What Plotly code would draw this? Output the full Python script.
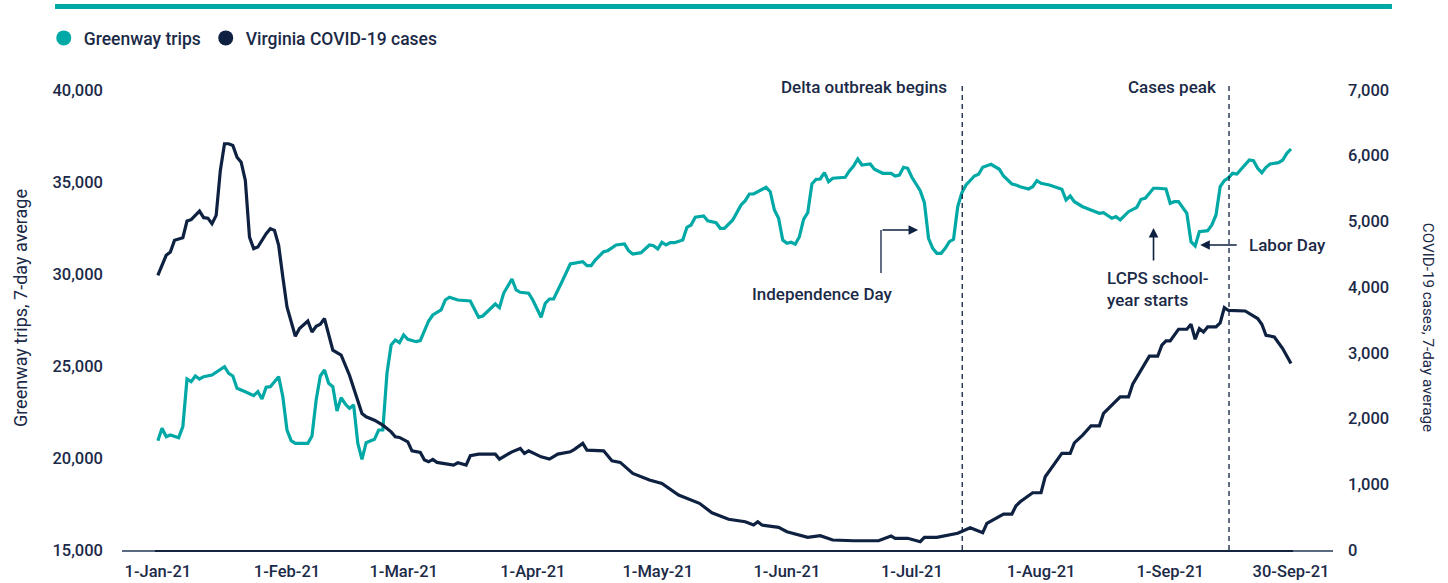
import plotly.graph_objects as go

TEAL = "#00A9A5"
NAVY = "#0E2141"
TEXT = "#1B2A47"
FONT = "Roboto"

# ---------------- data ----------------
case_dates = [
    "2021-01-01", "2021-01-03", "2021-01-04", "2021-01-05", "2021-01-07", "2021-01-08", "2021-01-09",
    "2021-01-11", "2021-01-12", "2021-01-13", "2021-01-14", "2021-01-15", "2021-01-16", "2021-01-17",
    "2021-01-18", "2021-01-19", "2021-01-20", "2021-01-21", "2021-01-22", "2021-01-23", "2021-01-24",
    "2021-01-25", "2021-01-27", "2021-01-28", "2021-01-29", "2021-01-30", "2021-01-31", "2021-02-01",
    "2021-02-03", "2021-02-04", "2021-02-06", "2021-02-07", "2021-02-08", "2021-02-09", "2021-02-10",
    "2021-02-11", "2021-02-12", "2021-02-14", "2021-02-16", "2021-02-19", "2021-02-20", "2021-02-22",
    "2021-02-24", "2021-02-26", "2021-02-27", "2021-02-28", "2021-03-02", "2021-03-03", "2021-03-05",
    "2021-03-06", "2021-03-07", "2021-03-08", "2021-03-09", "2021-03-13", "2021-03-14", "2021-03-16",
    "2021-03-17", "2021-03-19", "2021-03-23", "2021-03-24", "2021-03-27", "2021-03-29", "2021-03-30",
    "2021-03-31", "2021-04-03", "2021-04-05", "2021-04-07", "2021-04-10", "2021-04-11", "2021-04-13",
    "2021-04-14", "2021-04-18", "2021-04-20", "2021-04-22", "2021-04-25", "2021-04-29", "2021-05-02",
    "2021-05-06", "2021-05-11", "2021-05-14", "2021-05-18", "2021-05-22", "2021-05-24", "2021-05-25",
    "2021-05-26", "2021-05-30", "2021-06-01", "2021-06-06", "2021-06-09", "2021-06-12", "2021-06-17",
    "2021-06-23", "2021-06-26", "2021-06-27", "2021-06-30", "2021-07-03", "2021-07-04", "2021-07-07",
    "2021-07-10", "2021-07-12", "2021-07-15", "2021-07-18", "2021-07-19", "2021-07-23", "2021-07-25",
    "2021-07-26", "2021-07-27", "2021-07-30", "2021-08-01", "2021-08-02", "2021-08-04", "2021-08-06",
    "2021-08-08", "2021-08-09", "2021-08-11", "2021-08-13", "2021-08-15", "2021-08-16", "2021-08-20",
    "2021-08-22", "2021-08-23", "2021-08-25", "2021-08-27", "2021-08-29", "2021-08-30", "2021-08-31",
    "2021-09-01", "2021-09-03", "2021-09-05", "2021-09-06", "2021-09-07", "2021-09-08", "2021-09-09",
    "2021-09-10", "2021-09-12", "2021-09-13", "2021-09-14", "2021-09-15", "2021-09-17", "2021-09-19",
    "2021-09-22", "2021-09-23", "2021-09-24", "2021-09-26", "2021-09-28", "2021-09-30",
]
virginia_cases = [
    4180, 4484, 4534, 4712, 4753, 5006, 5027,
    5157, 5057, 5050, 4966, 5092, 5776, 6182,
    6182, 6156, 5978, 5902, 5624, 4762, 4586,
    4610, 4814, 4890, 4864, 4636, 4154, 3698,
    3253, 3370, 3485, 3318, 3405, 3435, 3522,
    3268, 3040, 2964, 2660, 2078, 2026, 1976,
    1900, 1798, 1722, 1713, 1646, 1509, 1485,
    1368, 1342, 1378, 1333, 1292, 1327, 1292,
    1434, 1459, 1459, 1383, 1494, 1546, 1470,
    1509, 1418, 1383, 1459, 1494, 1531, 1622,
    1520, 1509, 1357, 1333, 1166, 1064, 1014,
    836, 710, 567, 467, 430, 380, 430,
    380, 345, 278, 193, 217, 152, 141,
    141, 213, 178, 178, 126, 193, 193,
    228, 254, 339, 263, 406, 547, 547,
    673, 734, 871, 871, 1114, 1292, 1470,
    1470, 1631, 1748, 1890, 1890, 2078, 2330,
    2330, 2523, 2725, 2949, 2949, 3116, 3181,
    3181, 3359, 3359, 3435, 3207, 3370, 3318,
    3394, 3394, 3455, 3689, 3645, 3637, 3637,
    3522, 3435, 3268, 3242, 3066, 2838,
]

trip_dates = [
    "2021-01-01", "2021-01-02", "2021-01-03", "2021-01-04", "2021-01-06", "2021-01-07", "2021-01-08",
    "2021-01-09", "2021-01-10", "2021-01-11", "2021-01-12", "2021-01-14", "2021-01-17", "2021-01-18",
    "2021-01-19", "2021-01-20", "2021-01-22", "2021-01-24", "2021-01-25", "2021-01-26", "2021-01-27",
    "2021-01-28", "2021-01-30", "2021-01-31", "2021-02-01", "2021-02-02", "2021-02-03", "2021-02-06",
    "2021-02-07", "2021-02-08", "2021-02-09", "2021-02-10", "2021-02-11", "2021-02-12", "2021-02-13",
    "2021-02-14", "2021-02-15", "2021-02-16", "2021-02-17", "2021-02-18", "2021-02-19", "2021-02-20",
    "2021-02-22", "2021-02-23", "2021-02-24", "2021-02-25", "2021-02-26", "2021-02-27", "2021-02-28",
    "2021-03-01", "2021-03-02", "2021-03-04", "2021-03-05", "2021-03-07", "2021-03-08", "2021-03-10",
    "2021-03-11", "2021-03-12", "2021-03-14", "2021-03-17", "2021-03-19", "2021-03-20", "2021-03-23",
    "2021-03-24", "2021-03-25", "2021-03-27", "2021-03-28", "2021-03-29", "2021-03-31", "2021-04-01",
    "2021-04-03", "2021-04-04", "2021-04-05", "2021-04-06", "2021-04-08", "2021-04-10", "2021-04-13",
    "2021-04-14", "2021-04-15", "2021-04-16", "2021-04-18", "2021-04-19", "2021-04-21", "2021-04-23",
    "2021-04-24", "2021-04-25", "2021-04-27", "2021-04-29", "2021-04-30", "2021-05-01", "2021-05-02",
    "2021-05-03", "2021-05-04", "2021-05-05", "2021-05-07", "2021-05-08", "2021-05-09", "2021-05-10",
    "2021-05-12", "2021-05-13", "2021-05-15", "2021-05-16", "2021-05-17", "2021-05-19", "2021-05-21",
    "2021-05-22", "2021-05-23", "2021-05-24", "2021-05-27", "2021-05-28", "2021-05-29", "2021-05-30",
    "2021-05-31", "2021-06-01", "2021-06-02", "2021-06-03", "2021-06-04", "2021-06-05", "2021-06-06",
    "2021-06-07", "2021-06-08", "2021-06-09", "2021-06-10", "2021-06-11", "2021-06-12", "2021-06-15",
    "2021-06-16", "2021-06-17", "2021-06-18", "2021-06-19", "2021-06-21", "2021-06-22", "2021-06-24",
    "2021-06-26", "2021-06-27", "2021-06-28", "2021-06-29", "2021-06-30", "2021-07-01", "2021-07-03",
    "2021-07-04", "2021-07-05", "2021-07-06", "2021-07-07", "2021-07-08", "2021-07-09", "2021-07-10",
    "2021-07-11", "2021-07-12", "2021-07-13", "2021-07-14", "2021-07-16", "2021-07-17", "2021-07-18",
    "2021-07-20", "2021-07-22", "2021-07-23", "2021-07-25", "2021-07-26", "2021-07-27", "2021-07-29",
    "2021-07-30", "2021-07-31", "2021-08-01", "2021-08-03", "2021-08-06", "2021-08-07", "2021-08-08",
    "2021-08-09", "2021-08-11", "2021-08-15", "2021-08-16", "2021-08-18", "2021-08-19", "2021-08-20",
    "2021-08-22", "2021-08-24", "2021-08-25", "2021-08-26", "2021-08-28", "2021-08-29", "2021-08-31",
    "2021-09-01", "2021-09-02", "2021-09-03", "2021-09-04", "2021-09-05", "2021-09-06", "2021-09-07",
    "2021-09-08", "2021-09-10", "2021-09-11", "2021-09-12", "2021-09-13", "2021-09-14", "2021-09-15",
    "2021-09-16", "2021-09-17", "2021-09-19", "2021-09-20", "2021-09-21", "2021-09-22", "2021-09-23",
    "2021-09-24", "2021-09-25", "2021-09-27", "2021-09-28", "2021-09-29", "2021-09-30",
]
greenway_trips = [
    20941, 21614, 21158, 21250, 21104, 21702, 24294,
    24148, 24457, 24294, 24419, 24511, 24963, 24604,
    24457, 23789, 23604, 23386, 23604, 23207, 23843,
    23875, 24419, 23332, 21522, 20941, 20799, 20799,
    21196, 23152, 24457, 24783, 24060, 23875, 22555,
    23277, 22935, 22701, 22881, 20799, 19930, 20832,
    21016, 21522, 21522, 24604, 26142, 26413, 26267,
    26685, 26452, 26322, 26376, 27446, 27772, 28044,
    28587, 28735, 28587, 28533, 27646, 27718, 28370,
    28169, 28952, 29729, 29131, 29006, 28952, 28587,
    27646, 28408, 28642, 28642, 29582, 30544, 30669,
    30451, 30451, 30761, 31212, 31267, 31577, 31631,
    31267, 31088, 31158, 31577, 31539, 31359, 31723,
    31577, 31702, 31702, 31847, 32539, 32664, 33082,
    33153, 32897, 32789, 32484, 32484, 32936, 33751,
    33985, 34349, 34349, 34713, 34474, 33479, 33028,
    31847, 31670, 31723, 31615, 32028, 32974, 33332,
    34892, 35147, 35164, 35506, 35017, 35202, 35257,
    35599, 35870, 36251, 35925, 35979, 35691, 35473,
    35473, 35327, 35381, 35800, 35745, 35257, 34528,
    33876, 31941, 31397, 31125, 31125, 31397, 31756,
    31886, 33658, 34419, 34838, 35327, 35419, 35800,
    35963, 35691, 35327, 34892, 34838, 34746, 34621,
    34746, 35072, 34930, 34838, 34605, 34024, 34240,
    33930, 33658, 33300, 33332, 33028, 33115, 32936,
    33387, 33625, 34060, 34115, 34659, 34659, 34621,
    33843, 33930, 33930, 33625, 33300, 31756, 31522,
    32300, 32355, 32664, 33207, 34746, 35072, 35235,
    35473, 35436, 35925, 36196, 36160, 35745, 35506,
    35800, 35979, 36051, 36196, 36560, 36794,
]

tick_dates = ["2021-01-01", "2021-02-01", "2021-03-01", "2021-04-01", "2021-05-01",
              "2021-06-01", "2021-07-01", "2021-08-01", "2021-09-01", "2021-09-30"]
tick_labels = ["1-Jan-21", "1-Feb-21", "1-Mar-21", "1-Apr-21", "1-May-21",
               "1-Jun-21", "1-Jul-21", "1-Aug-21", "1-Sep-21", "30-Sep-21"]

event_dates = ["2021-07-13 02:00", "2021-09-15 03:00"]
event_labels = ["Delta outbreak begins", "Cases peak"]

series_names = ["Greenway trips", "Virginia COVID-19 cases"]

# ---------------- figure ----------------
fig = go.Figure()

fig.add_trace(go.Scatter(x=trip_dates, y=greenway_trips, mode="lines", yaxis="y",
                         line=dict(color=TEAL, width=3.2), showlegend=False,
                         name=series_names[0]))
fig.add_trace(go.Scatter(x=case_dates, y=virginia_cases, mode="lines", yaxis="y2",
                         line=dict(color=NAVY, width=3.2), showlegend=False,
                         name=series_names[1]))
# legend entries as circles
for nm, col in zip(series_names, [TEAL, NAVY]):
    fig.add_trace(go.Scatter(x=[None], y=[None], mode="markers", name=nm,
                             marker=dict(color=col, size=15, symbol="circle")))

shapes = []
# top teal bar
shapes.append(dict(type="rect", xref="paper", yref="paper", x0=-0.0553, x1=1.0487,
                   y0=1.176, y1=1.187, fillcolor=TEAL, line=dict(width=0), layer="above"))
# darker section of the baseline spanning the data range
shapes.append(dict(type="line", xref="x", yref="paper", ysizemode="pixel", yanchor=0,
                   x0="2020-12-31 07:00", x1="2021-09-30 12:00", y0=-1, y1=-1,
                   line=dict(color="#14243F", width=2), layer="above"))
# event dashed lines
for d in event_dates:
    shapes.append(dict(type="line", xref="x", yref="paper", x0=d, x1=d, y0=0, y1=1.015,
                       line=dict(color=NAVY, width=1.3, dash="5px,4px")))
# Independence Day elbow (vertical part)
shapes.append(dict(type="line", xref="x", yref="y", x0="2021-06-23 14:00", x1="2021-06-23 14:00",
                   y0=30055, y1=32392, line=dict(color="#3a4a66", width=1.6)))
fig.update_layout(shapes=shapes)

ann_font = dict(family=FONT, size=17, color=TEXT, weight=500)
annotations = []
for d, lbl, xs in zip(event_dates, event_labels, [-13, -11]):
    annotations.append(dict(x=d, y=1.0065, xref="x", yref="paper", text=lbl, showarrow=False,
                            xanchor="right", yanchor="middle", xshift=xs, font=ann_font))
annotations += [
    dict(x="2021-06-09 12:00", y=28913, xref="x", yref="y", text="Independence Day",
         showarrow=False, xanchor="center", yanchor="middle", font=ann_font),
    dict(x="2021-07-02 12:00", y=32392, ax="2021-06-23 14:00", ay=32392, xref="x", yref="y",
         axref="x", ayref="y", text="", showarrow=True, arrowhead=2, arrowsize=1.2,
         arrowwidth=1.6, arrowcolor=NAVY, standoff=0),
    dict(x="2021-08-28 00:00", y=32500, ax="2021-08-28 00:00", ay=30653, xref="x", yref="y",
         axref="x", ayref="y", text="", showarrow=True, arrowhead=2, arrowsize=1.2,
         arrowwidth=1.6, arrowcolor=NAVY, standoff=0),
    dict(x="2021-08-16 07:00", y=29185, xref="x", yref="y", text="LCPS school-<br>year starts",
         showarrow=False, xanchor="left", yanchor="middle", align="left", font=ann_font),
    dict(x="2021-09-08 05:00", y=31577, ax="2021-09-17 08:00", ay=31577, xref="x", yref="y",
         axref="x", ayref="y", text="", showarrow=True, arrowhead=2, arrowsize=1.2,
         arrowwidth=1.6, arrowcolor=NAVY, standoff=0),
    dict(x="2021-09-19 10:00", y=31577, xref="x", yref="y", text="Labor Day",
         showarrow=False, xanchor="left", yanchor="middle", font=ann_font),
    # axis titles
    dict(x=-0.0842, y=0.526, xref="paper", yref="paper", text="Greenway trips, 7-day average",
         showarrow=False, textangle=-90, xanchor="center", yanchor="middle",
         font=dict(family=FONT, size=18, color=TEXT)),
    dict(x=1.0785, y=0.485, xref="paper", yref="paper", text="COVID-19 cases, 7-day average",
         showarrow=False, textangle=90, xanchor="center", yanchor="middle",
         font=dict(family=FONT, size=15.2, color=TEXT)),
]
fig.update_layout(annotations=annotations)

tick_font = dict(family=FONT, size=16.5, color=TEXT, weight=500)
fig.update_layout(
    width=1448, height=583,
    margin=dict(l=122, r=115, t=90, b=33, autoexpand=False),
    paper_bgcolor="white", plot_bgcolor="white",
    font=dict(family=FONT, color=TEXT),
    showlegend=True,
    legend=dict(orientation="h", x=-0.0646, y=1.113, xanchor="left", yanchor="middle",
                font=dict(family=FONT, size=17.5, color=TEXT, weight=500),
                bgcolor="rgba(0,0,0,0)", itemclick=False, itemdoubleclick=False),
    xaxis=dict(type="date", range=["2020-12-23 09:30", "2021-10-10 02:00"],
               tickmode="array", tickvals=tick_dates, ticktext=tick_labels,
               showgrid=False, zeroline=False, showline=True, linecolor="#5B6A83",
               linewidth=2, ticks="", tickfont=tick_font, ticklabelstandoff=5),
    yaxis=dict(range=[15000, 40000], tickmode="array",
               tickvals=[15000, 20000, 25000, 30000, 35000, 40000],
               tickformat=",", showgrid=False, zeroline=False, showline=False,
               ticks="", tickfont=tick_font, ticklabelstandoff=18),
    yaxis2=dict(range=[0, 7000], overlaying="y", side="right", tickmode="array",
                tickvals=[0, 1000, 2000, 3000, 4000, 5000, 6000, 7000],
                tickformat=",", showgrid=False, zeroline=False, showline=False,
                ticks="", tickfont=tick_font, ticklabelstandoff=14),
)

fig.write_html("out.html", config={"displayModeBar": False},
               post_script="document.body.style.margin='0';document.body.style.padding='0';")
